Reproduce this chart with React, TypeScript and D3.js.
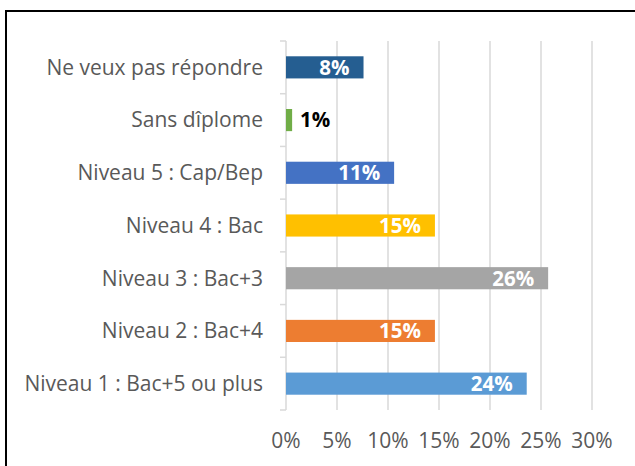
import * as d3 from 'd3';
import React, { useRef, useEffect } from 'react';

// categories, top to bottom
const categories = [
    'Ne veux pas répondre',
    'Sans dîplome',
    'Niveau 5 : Cap/Bep',
    'Niveau 4 : Bac',
    'Niveau 3 : Bac+3',
    'Niveau 2 : Bac+4',
    'Niveau 1 : Bac+5 ou plus',
];
const values = [7.6, 0.6, 10.6, 14.6, 25.7, 14.6, 23.6];
const colors = ['#255e91', '#70ad47', '#4472c4', '#ffc000', '#a5a5a5', '#ed7d31', '#5b9bd5'];
const xTicks = [0, 5, 10, 15, 20, 25, 30];

const W = 635;
const H = 466;
const FONT = '"Open Sans", Lato, sans-serif';

function BarChart() {
    const ref = useRef<SVGSVGElement>(null);

    useEffect(() => {
        const svg = d3.select(ref.current);
        svg.selectAll('*').remove();

        const left = 286, right = 592, top = 41, bottom = 410;

        const xScale = d3.scaleLinear().domain([0, 30]).range([left, right]);
        const yScale = d3.scaleBand<string>()
            .domain(categories)
            .range([top, bottom])
            .paddingInner(0.58)
            .paddingOuter(0.29);
        const band = d3.scaleBand<string>().domain(categories).range([top, bottom]);

        // outer frame
        svg.append('rect')
            .attr('x', 6).attr('y', 11)
            .attr('width', W + 20).attr('height', H + 20)
            .attr('fill', 'white')
            .attr('stroke', '#000')
            .attr('stroke-width', 2);

        // gridlines
        svg.append('g')
            .selectAll('line')
            .data(xTicks.slice(1))
            .enter()
            .append('line')
            .attr('x1', d => xScale(d)).attr('x2', d => xScale(d))
            .attr('y1', top).attr('y2', bottom)
            .attr('stroke', '#d9d9d9')
            .attr('stroke-width', 1.5);

        // x tick labels
        svg.append('g')
            .selectAll('text')
            .data(xTicks)
            .enter()
            .append('text')
            .attr('x', d => xScale(d))
            .attr('y', 441)
            .attr('dy', '0.35em')
            .attr('text-anchor', 'middle')
            .style('font-family', FONT)
            .style('font-size', '21px')
            .attr('fill', '#595959')
            .text(d => d + '%');

        // category axis
        const yAxis = svg.append('g');
        yAxis.append('line')
            .attr('x1', left).attr('x2', left)
            .attr('y1', top).attr('y2', bottom)
            .attr('stroke', '#d9d9d9').attr('stroke-width', 1.5);
        const bounds = categories.map(c => band(c) as number).concat([bottom]);
        yAxis.selectAll('.tick')
            .data(bounds)
            .enter()
            .append('line')
            .attr('x1', left - 6).attr('x2', left)
            .attr('y1', d => d).attr('y2', d => d)
            .attr('stroke', '#d9d9d9').attr('stroke-width', 1.5);

        yAxis.selectAll('text')
            .data(categories)
            .enter()
            .append('text')
            .attr('x', 263)
            .attr('y', d => (yScale(d) as number) + yScale.bandwidth() / 2)
            .attr('dy', '0.35em')
            .attr('text-anchor', 'end')
            .style('font-family', FONT)
            .style('font-size', '21px')
            .attr('fill', '#595959')
            .text(d => d);

        // bars
        svg.append('g')
            .selectAll('rect')
            .data(categories)
            .enter()
            .append('rect')
            .attr('x', xScale(0))
            .attr('y', d => yScale(d) as number)
            .attr('width', (d, i) => xScale(values[i]) - xScale(0))
            .attr('height', yScale.bandwidth())
            .attr('fill', (d, i) => colors[i]);

        // value labels
        svg.append('g')
            .selectAll('text')
            .data(categories)
            .enter()
            .append('text')
            .attr('x', (d, i) => values[i] < 3 ? xScale(values[i]) + 8 : xScale(values[i]) - 14)
            .attr('y', d => (yScale(d) as number) + yScale.bandwidth() / 2)
            .attr('dy', '0.36em')
            .attr('text-anchor', (d, i) => values[i] < 3 ? 'start' : 'end')
            .style('font-family', FONT)
            .style('font-size', '20.5px')
            .style('font-weight', 'bold')
            .attr('fill', (d, i) => values[i] < 3 ? '#000' : '#fff')
            .text((d, i) => Math.round(values[i]) + '%');
    }, []);

    return <svg ref={ref} width={W} height={H} style={{ display: 'block' }} />;
}

export default function App() {
    return (
        <div style={{ position: 'fixed', left: 0, top: 0, width: W, height: H, background: 'white' }}>
            <BarChart />
        </div>
    );
}
